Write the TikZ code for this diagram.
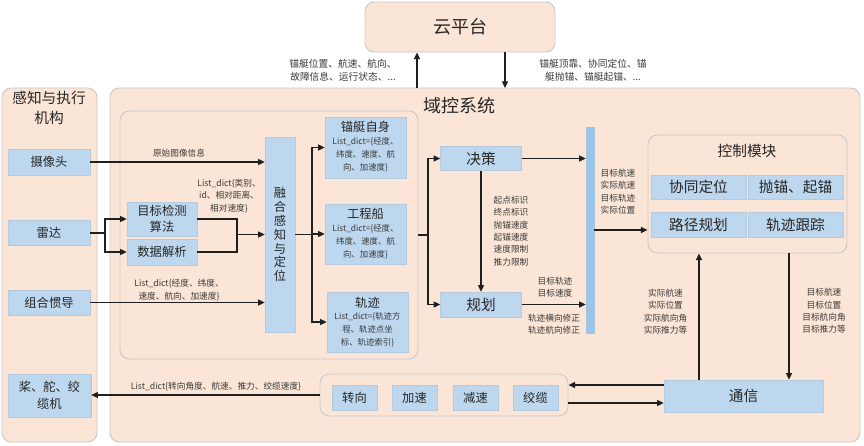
\documentclass[tikz,border=0pt]{standalone}
\usepackage{fontspec}
\setmainfont{Noto Sans CJK SC}
\usetikzlibrary{arrows.meta}
\definecolor{peach}{HTML}{FBE5D6}
\definecolor{bblue}{HTML}{BDD7EE}
\definecolor{barblue}{HTML}{9DC3E6}
\definecolor{edgegray}{HTML}{C9C9C9}
\definecolor{txt}{HTML}{262626}
\definecolor{ltxt}{HTML}{3A3A3A}
\tikzset{
  panel/.style={draw=edgegray, fill=peach, rounded corners=7pt, line width=0.7pt},
  bluebox/.style={fill=bblue, draw=bblue!85!gray, line width=0.4pt, text=txt, inner sep=0pt, align=center},
  bx/.style 2 args={minimum width=#1*0.75pt, minimum height=#2*0.75pt},
  arr/.style={-{Triangle[length=5pt,width=4.5pt]}, line width=0.95pt, draw=black!88},
  ln/.style={line width=0.95pt, draw=black!88},
  small/.style={font=\fontsize{6.5}{9.3}\selectfont, text=ltxt, align=center, inner sep=0pt},
  boxsmall/.style={font=\fontsize{6.3}{9.6}\selectfont, text=ltxt, align=center, inner sep=0pt},
  lab/.style={font=\fontsize{9.2}{11}\selectfont},
  labbig/.style={font=\fontsize{11}{13}\selectfont},
}
\begin{document}
\begin{tikzpicture}[x=0.75pt,y=-0.75pt]
\useasboundingbox (0,0) rectangle (864,446);
% panels
\node[panel, bx={190}{50}, font=\fontsize{13.5}{16}\selectfont, text=txt] (cloud) at (460,27) {云平台};
\node[panel, bx={95}{354}] (left) at (49.5,265) {};
\node[font=\fontsize{11}{15}\selectfont, align=center, text=txt] (leftt) at (49,108) {感知与执行\\机构};
\node[panel, bx={750}{354}] (main) at (485,265) {};
\node[font=\fontsize{13.5}{16}\selectfont, text=txt] (maint) at (459,106) {域控系统};
\node[panel, bx={298}{248}] (inner) at (269,235) {};
\node[panel, bx={199}{118}] (ctrl) at (747.5,194) {};
\node[font=\fontsize{11}{13}\selectfont, text=txt] (ctrlt) at (747,151) {控制模块};
\node[panel, bx={248}{42}] (grp) at (444,395) {};

% left boxes
\node[bluebox, bx={82}{26}, lab] (cam) at (49,162) {摄像头};
\node[bluebox, bx={82}{25}, lab] (radar) at (49,233) {雷达};
\node[bluebox, bx={82}{25}, lab] (ins) at (49,302.5) {组合惯导};
\node[bluebox, bx={83}{43}, font=\fontsize{9.2}{13}\selectfont] (prop) at (49.5,395.5) {桨、舵、绞\\缆机};

% inner
\node[bluebox, bx={70}{34}, font=\fontsize{9.2}{12}\selectfont] (det) at (162,219) {目标检测\\算法};
\node[bluebox, bx={70}{26}, lab] (parse) at (162,252) {数据解析};
\node[bluebox, bx={30}{195}, font=\fontsize{9.2}{10.4}\selectfont] (fuse) at (280,234.5) {融\\合\\感\\知\\与\\定\\位};

\node[bluebox, bx={81}{61}] (self) at (365.5,147.5) {};
\node[lab, text=txt] (selft) at ([yshift=-10*0.75pt]self.north) {锚艇自身};
\node[boxsmall] (selfs) at ([yshift=-38*0.75pt]self.north) {List\_dict=\{经度、\\纬度、速度、航\\向、加速度\}};
\node[bluebox, bx={81}{60}] (eng) at (365.5,234) {};
\node[lab, text=txt] (engt) at ([yshift=-10*0.75pt]eng.north) {工程船};
\node[boxsmall] (engs) at ([yshift=-38*0.75pt]eng.north) {List\_dict=\{经度、\\纬度、速度、航\\向、加速度\}};
\node[bluebox, bx={81}{60}] (traj) at (367.5,322) {};
\node[lab, text=txt] (trajt) at ([yshift=-11*0.75pt]traj.north) {轨迹};
\node[boxsmall] (trajs) at ([yshift=-38*0.75pt]traj.north) {List\_dict=\{轨迹方\\程、轨迹点坐\\标、轨迹索引\}};

% decision/plan
\node[bluebox, bx={81}{24}, labbig] (dec) at (481,158.5) {决策};
\node[bluebox, bx={81}{25}, labbig] (plan) at (481,304.5) {规划};
\node[fill=barblue, draw=barblue, bx={8}{206}, inner sep=0pt] (bar) at (590,230) {};

% control
\node[bluebox, bx={95}{24}, labbig] (xt) at (698.5,187) {协同定位};
\node[bluebox, bx={95}{24}, labbig] (mao) at (795.5,187) {抛锚、起锚};
\node[bluebox, bx={95}{25}, labbig] (lj) at (698.5,224.5) {路径规划};
\node[bluebox, bx={95}{25}, labbig] (gj) at (795.5,224.5) {轨迹跟踪};

\node[bluebox, bx={159}{32}, labbig] (comm) at (743.5,396) {通信};

\node[bluebox, bx={45}{25}, lab] (zx) at (354.5,397.5) {转向};
\node[bluebox, bx={45}{25}, lab] (jsu) at (414.5,397.5) {加速};
\node[bluebox, bx={45}{25}, lab] (jsd) at (475.5,397.5) {减速};
\node[bluebox, bx={45}{25}, lab] (jl) at (535.5,397.5) {绞缆};

% cloud arrows
\coordinate (cu) at (417,88);
\coordinate (cd) at (505,88);
\draw[arr] (cu) -- (cu |- cloud.south);
\draw[arr] (cd |- cloud.south) -- (cd);
\node[small, font=\fontsize{7.3}{9.8}\selectfont] (cl1) at (343,70) {锚艇位置、航速、航向、\\故障信息、运行状态、...};
\node[small, font=\fontsize{7.3}{9.8}\selectfont] (cl2) at (593,70) {锚艇顶靠、协同定位、锚\\艇抛锚、锚艇起锚、...};

% camera
\draw[arr] (cam.east) -- (cam.east -| fuse.west);
\node[small] (camt) at (179,153) {原始图像信息};
% radar
\coordinate (rs) at (105,233);
\draw[ln] (radar.east) -- (rs);
\draw[arr] (rs) |- (det.west);
\draw[arr] (rs) |- (parse.west);
\coordinate (fj) at (237,234.5);
\draw[ln] (det.east) -| (fj);
\draw[ln] (parse.east) -| (fj);
\draw[arr] (fj) -- (fj -| fuse.west);
\node[small] (dett) at (229,196) {List\_dict\{类别、\\id、相对距离、\\相对速度\}};
% ins
\draw[arr] (ins.east) -- (ins.east -| fuse.west);
\node[small] (inst) at (179,290) {List\_dict\{经度、纬度、\\速度、航向、加速度\}};

% fuse branches
\coordinate (fb) at (312,234.5);
\draw[ln] (fuse.east) -- (fb);
\draw[arr] (fb) |- (self.west);
\draw[arr] (fb) |- (eng.west);
\draw[arr] (fb) |- (traj.west);

% inner to dec/plan
\coordinate (ib) at (428,235);
\draw[ln] (inner.east |- ib) -- (ib);
\draw[arr] (ib) |- (dec.west);
\draw[arr] (ib) |- (plan.west);

\draw[arr] (dec.east) -- (dec.east -| bar.west);
\draw[arr] (plan.east) -- (plan.east -| bar.west);
\draw[arr] (dec.south) -- (plan.north);
\node[small] (dect) at (511,231) {起点标识\\终点标识\\抛锚速度\\起锚速度\\速度限制\\推力限制};
\node[small] (plt1) at (555,287) {目标轨迹\\目标速度};
\node[small] (plt2) at (554,324.5) {轨迹横向修正\\轨迹航向修正};

% bar to control
\draw[arr] (bar.east) -- (bar.east -| ctrl.west);
\node[small] (bart) at (618,191.5) {目标航速\\实际航速\\目标轨迹\\实际位置};

% comm <-> control
\coordinate (cux) at (699,0);
\coordinate (cdx) at (789,0);
\draw[arr] (comm.north -| cux) -- (ctrl.south -| cux);
\draw[arr] (ctrl.south -| cdx) -- (comm.north -| cdx);
\node[small] (cml) at (665.5,311.5) {实际航速\\实际位置\\实际航向角\\实际推力等};
\node[small] (cmr) at (824,311) {目标航速\\目标位置\\目标航向角\\目标推力等};

% comm <-> group
\coordinate (g1) at (0,385);
\coordinate (g2) at (0,403);
\draw[arr] (comm.west |- g1) -- (grp.east |- g1);
\draw[arr] (grp.east |- g2) -- (comm.west |- g2);
% group to actuators
\draw[arr] (grp.west) -- (grp.west -| prop.east);
\node[small] (grpt) at (216,387) {List\_dict\{转向角度、航速、推力、绞缆速度\}};
\end{tikzpicture}
\end{document}
